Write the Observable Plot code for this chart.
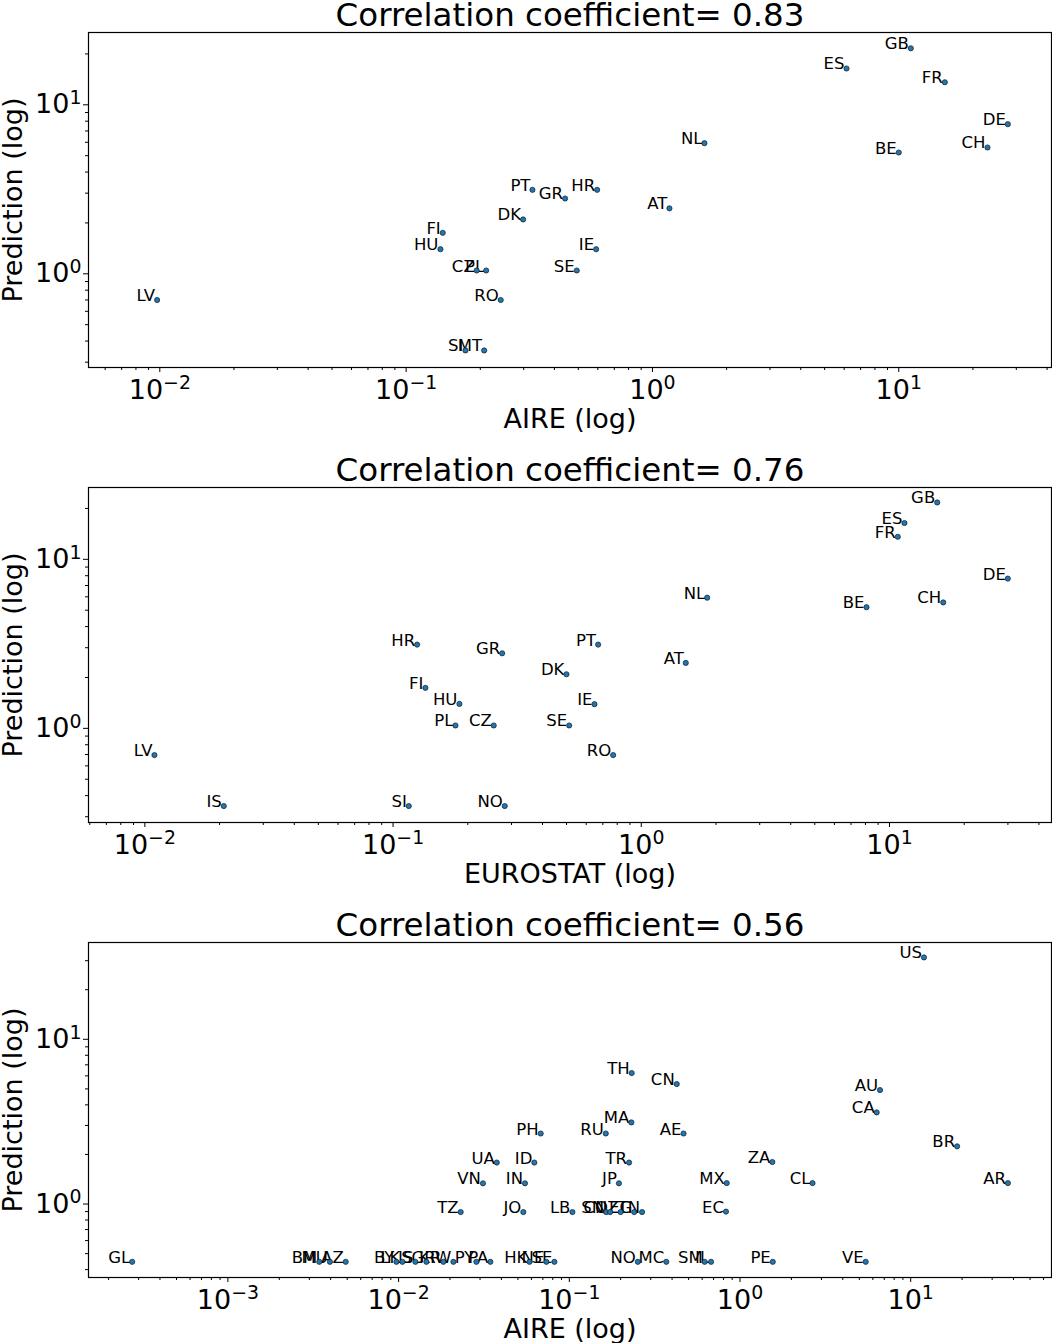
<!DOCTYPE html>
<html><head><meta charset="utf-8">
<script src="https://cdn.jsdelivr.net/npm/d3@7"></script>
<script src="https://cdn.jsdelivr.net/npm/@observablehq/plot@0.6"></script>
<style>
body{margin:0;background:#fff;}
#wrap{position:relative;width:1052px;height:1343px;font-family:"DejaVu Sans",sans-serif;background:#fff;}
.panel{position:absolute;left:0;width:1052px;}
</style></head><body><div id="wrap"></div>
<script>
// ---------- Panel 1: AIRE vs Prediction (Europe) ----------
const title1 = "Correlation coefficient= 0.83";
const xLabel1 = "AIRE (log)";
const codes1 = ["LV","FI","HU","CZ","PL","RO","SI","MT","DK","PT","GR","SE","HR","IE","AT","NL","ES","GB","FR","DE","BE","CH"];
const aire1  = [0.00975,0.1408,0.1378,0.1934,0.2113,0.2421,0.1741,0.2074,0.2985,0.3257,0.4419,0.4929,0.5963,0.5907,1.172,1.626,6.135,11.19,15.38,27.71,10.0,22.92];
const pred1  = [0.70,1.748,1.398,1.046,1.046,0.70,0.352,0.352,2.097,3.14,2.79,1.046,3.14,1.398,2.44,5.93,16.4,21.6,13.6,7.68,5.22,5.59];
const xTicks1 = [0.01,0.1,1,10];
const yTicks1 = [1,10];

// ---------- Panel 2: EUROSTAT vs Prediction (Europe) ----------
const title2 = "Correlation coefficient= 0.76";
const xLabel2 = "EUROSTAT (log)";
const codes2 = ["LV","IS","SI","NO","HR","FI","HU","PL","CZ","GR","DK","SE","PT","IE","RO","AT","NL","BE","GB","ES","FR","DE","CH"];
const euro2  = [0.01093,0.0208,0.1157,0.2818,0.125,0.135,0.1851,0.1784,0.2544,0.2751,0.4995,0.5122,0.6702,0.6477,0.7705,1.511,1.843,8.08,15.57,11.49,10.8,29.97,16.46];
const pred2  = [0.695,0.347,0.347,0.347,3.13,1.736,1.395,1.04,1.04,2.78,2.09,1.04,3.13,1.39,0.695,2.44,5.93,5.21,21.7,16.4,13.6,7.69,5.56];
const xTicks2 = [0.01,0.1,1,10];
const yTicks2 = [1,10];

// ---------- Panel 3: AIRE vs Prediction (rest of world) ----------
const title3 = "Correlation coefficient= 0.56";
const xLabel3 = "AIRE (log)";
const codes3 = ["GL","BM","MU","AZ",
  "BY","LK","IS","SG","KR","RW","PY","PA","HK","NE","SE",
  "TZ","JO","LB","SN","CO","NZ","EG","TN","EC",
  "VN","IN","JP","MX","CL","AR",
  "UA","ID","TR","ZA",
  "PH","RU","AE","MA","TH","CN","US","AU","CA","BR",
  "NO","MC","SM","IL","PE","VE"];
const aire3 = [0.000275,0.00343,0.00396,0.0049,
  0.00971,0.01053,0.01254,0.01455,0.0183,0.02094,0.02855,0.03449,0.0584,0.0734,0.0818,
  0.0231,0.0538,0.1043,0.1643,0.1734,0.1997,0.24,0.2668,0.828,
  0.0312,0.055,0.1953,0.836,2.66,37.1,
  0.0376,0.0624,0.224,1.547,
  0.068,0.1636,0.467,0.231,0.232,0.426,11.96,6.61,6.32,18.7,
  0.252,0.370,0.621,0.677,1.556,5.45];
const pred3 = [0.446,0.446,0.446,0.446,
  0.446,0.446,0.446,0.446,0.446,0.446,0.446,0.446,0.446,0.446,0.446,
  0.894,0.894,0.894,0.894,0.894,0.894,0.894,0.894,0.90,
  1.336,1.336,1.336,1.34,1.34,1.34,
  1.786,1.786,1.786,1.80,
  2.68,2.68,2.68,3.13,6.24,5.35,31.4,4.92,3.60,2.24,
  0.446,0.446,0.446,0.446,0.446,0.446];
const xTicks3 = [0.001,0.01,0.1,1,10];
const yTicks3 = [1,10];

const yLabel = "Prediction (log)";

const fmt = d => "10^" + Math.round(Math.log10(d));
function minors([lo, hi]) {
  const out = [];
  for (let e = Math.floor(Math.log10(lo)); e <= Math.ceil(Math.log10(hi)); e++)
    for (let k = 2; k <= 9; k++) { const v = k * Math.pow(10, e); if (v >= lo && v <= hi) out.push(v); }
  return out;
}
// turn "10^k" tick labels into 10 with a raised, smaller exponent
function superscripts(svg) {
  svg.querySelectorAll("text").forEach(t => {
    const m = /^10\^(-?\d+)$/.exec(t.textContent);
    if (!m) return;
    t.textContent = "10";
    const s = document.createElementNS("http://www.w3.org/2000/svg", "tspan");
    s.setAttribute("font-size", "70%");
    s.setAttribute("dy", "-0.5em");
    s.textContent = m[1].replace("-", "\u2212");
    t.appendChild(s);
  });
}

function panel({codes, xs, ys, xDomain, yDomain, xTicks, yTicks, title, xLabel, top}) {
  const data = codes.map((c, i) => ({c, x: xs[i], y: ys[i]}));
  const chart = Plot.plot({
    width: 1052, height: 433,
    marginTop: 32, marginBottom: 66, marginLeft: 88, marginRight: 1,
    x: {type: "log", domain: xDomain},
    y: {type: "log", domain: yDomain},
    style: {fontFamily: "DejaVu Sans, sans-serif", color: "black", background: "white", overflow: "visible"},
    marks: [
      Plot.axisX({ticks: minors(xDomain), tickSize: 3, tickFormat: () => "", label: null}),
      Plot.axisX({ticks: xTicks, tickSize: 5, tickPadding: 7, fontSize: 27, tickFormat: fmt, label: null}),
      Plot.axisY({ticks: minors(yDomain), tickSize: 3, tickFormat: () => "", label: null}),
      Plot.axisY({ticks: yTicks, tickSize: 5, tickPadding: 2, fontSize: 27, tickFormat: fmt, label: null}),
      Plot.frame({stroke: "black", strokeWidth: 1.2}),
      Plot.text([title], {text: d => d, frameAnchor: "top", lineAnchor: "bottom", dy: -6.5, fontSize: 32.5}),
      Plot.text([xLabel], {text: d => d, frameAnchor: "bottom", lineAnchor: "bottom", dy: 60, fontSize: 27}),
      Plot.text([yLabel], {text: d => d, frameAnchor: "left", textAnchor: "middle", rotate: -90, lineAnchor: "bottom", dx: -67, fontSize: 27}),
      Plot.text(data, {x: "x", y: "y", text: "c", textAnchor: "end", lineAnchor: "bottom", dx: -2, dy: 1, fontSize: 16.5}),
      Plot.dot(data, {x: "x", y: "y", r: 2.6, fill: "#1f77b4", stroke: "#1a1a1a", strokeWidth: 0.7})
    ]
  });
  superscripts(chart);
  const div = document.createElement("div");
  div.className = "panel";
  div.style.top = top + "px";
  div.appendChild(chart);
  document.getElementById("wrap").appendChild(div);
}

panel({codes: codes1, xs: aire1, ys: pred1, xDomain: [Math.pow(10,-2.2895), Math.pow(10,1.620)], yDomain: [Math.pow(10,-0.5544), Math.pow(10,1.4278)],
  xTicks: xTicks1, yTicks: yTicks1, title: title1, xLabel: xLabel1, top: 0});
panel({codes: codes2, xs: euro2, ys: pred2, xDomain: [Math.pow(10,-2.227), Math.pow(10,1.6527)], yDomain: [Math.pow(10,-0.557), Math.pow(10,1.425)],
  xTicks: xTicks2, yTicks: yTicks2, title: title2, xLabel: xLabel2, top: 455});
panel({codes: codes3, xs: aire3, ys: pred3, xDomain: [Math.pow(10,-3.8166), Math.pow(10,1.8248)], yDomain: [Math.pow(10,-0.4459), Math.pow(10,1.5876)],
  xTicks: xTicks3, yTicks: yTicks3, title: title3, xLabel: xLabel3, top: 910});
</script></body></html>
